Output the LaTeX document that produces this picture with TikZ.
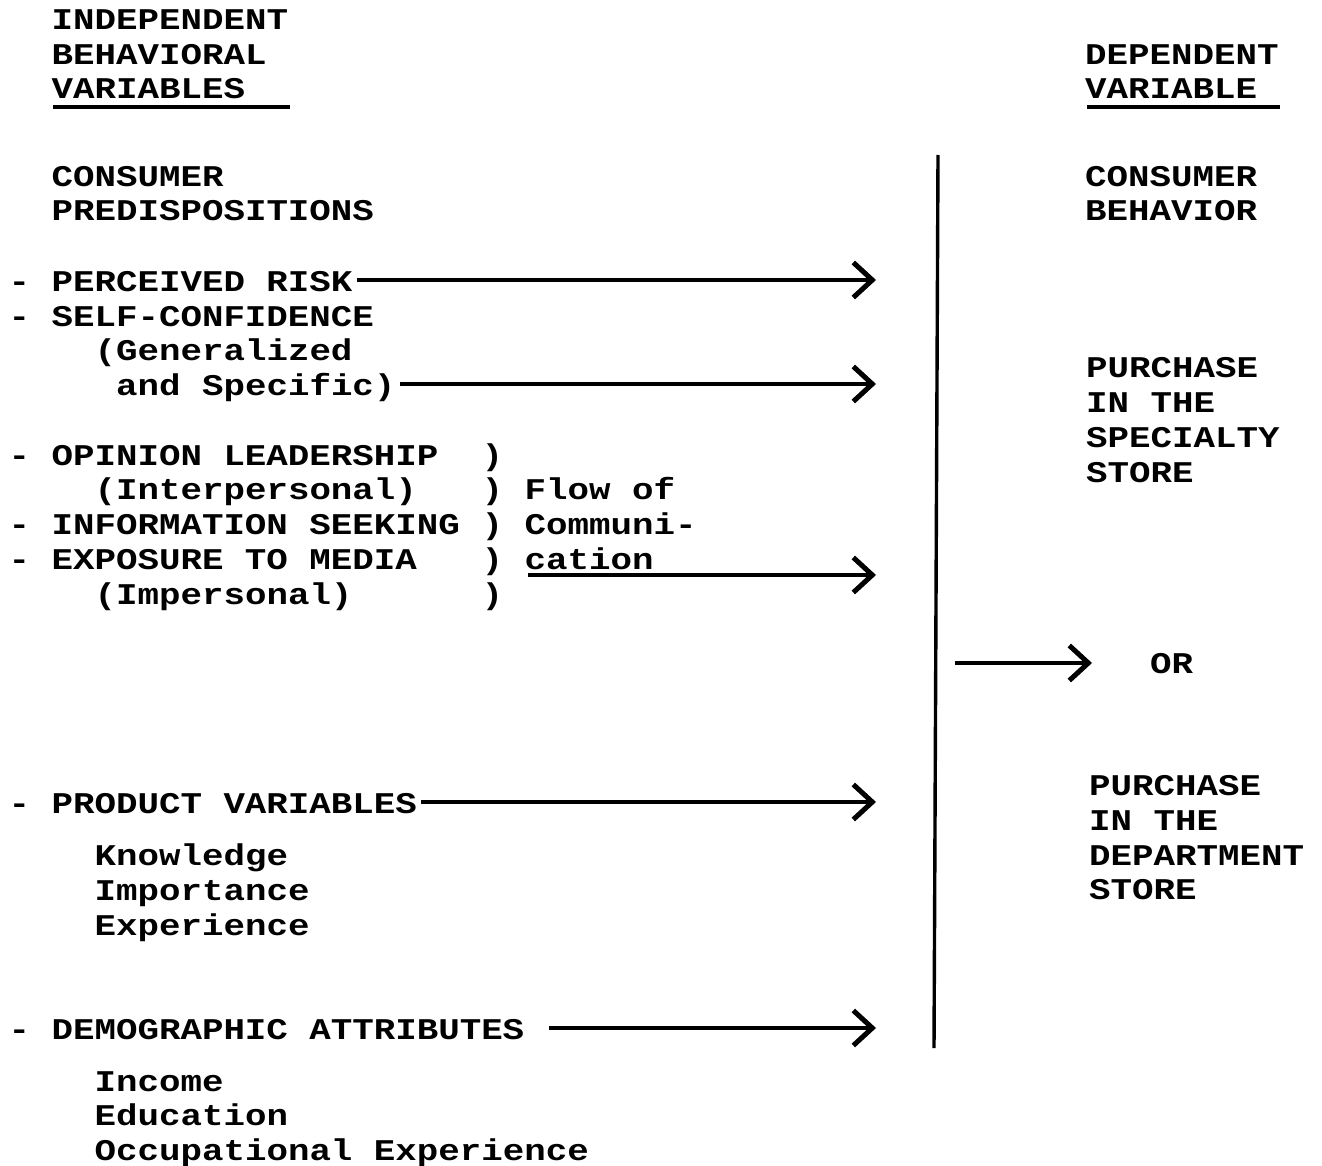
\documentclass[tikz,border=0pt]{standalone}
\usepackage{fontspec}
\setmainfont{Liberation Mono}
\usetikzlibrary{arrows.meta}
\newcommand{\tw}[1]{\scalebox{1}[0.84]{#1}}
\begin{document}
\begin{tikzpicture}[x=1pt,y=-1pt,
  txt/.style={anchor=base west, inner sep=0pt, font=\fontsize{35.8}{40}\selectfont\bfseries, text height=22pt, text depth=0pt},
  arr/.style={line width=3.4pt, -{Straight Barb[length=19pt,width=35pt,line width=5pt]}},
  rule/.style={line width=3.4pt}]
\useasboundingbox[fill=white] (0,0) rectangle (1322,1166);
% headings
\node[txt] (h1) at (51.5,30) {\tw{INDEPENDENT}};
\node[txt] (h2) at (51.5,65) {\tw{BEHAVIORAL}};
\node[txt] (h3) at (51.5,99) {\tw{VARIABLES}};
\node[txt] (d1) at (1085,65) {\tw{DEPENDENT}};
\node[txt] (d2) at (1085,99) {\tw{VARIABLE}};
\coordinate (u1a) at (53,107); \coordinate (u1b) at (290,107);
\coordinate (u2a) at (1087,107); \coordinate (u2b) at (1280,107);
\draw[rule] (u1a) -- (u1b);
\draw[rule] (u2a) -- (u2b);
% section titles
\node[txt] (c1) at (51.5,187) {\tw{CONSUMER}};
\node[txt] (c2) at (51.5,221) {\tw{PREDISPOSITIONS}};
\node[txt] (b1) at (1085,187) {\tw{CONSUMER}};
\node[txt] (b2) at (1085,221) {\tw{BEHAVIOR}};
% predispositions
\node[txt] (risk) at (8.5,291) {\tw{- PERCEIVED RISK}};
\node[txt] (self) at (8.5,326) {\tw{- SELF-CONFIDENCE}};
\node[txt] (gen) at (94.5,360) {\tw{(Generalized}};
\node[txt] (spec) at (116,395) {\tw{and Specific)}};
\node[txt] (opin) at (8.5,465) {\tw{- OPINION LEADERSHIP}};
\node[txt] (inter) at (94.5,499) {\tw{(Interpersonal)}};
\node[txt] (info) at (8.5,534) {\tw{- INFORMATION SEEKING}};
\node[txt] (expo) at (8.5,569) {\tw{- EXPOSURE TO MEDIA}};
\node[txt] (imper) at (94.5,604) {\tw{(Impersonal)}};
\node[txt] (p1) at (481.5,465) {\tw{)}};
\node[txt] (p2) at (481.5,499) {\tw{)}};
\node[txt] (p3) at (481.5,534) {\tw{)}};
\node[txt] (p4) at (481.5,569) {\tw{)}};
\node[txt] (p5) at (481.5,604) {\tw{)}};
\node[txt] (flow1) at (524.5,499) {\tw{Flow of}};
\node[txt] (flow2) at (524.5,534) {\tw{Communi-}};
\node[txt] (flow3) at (524.5,569) {\tw{cation}};
% product and demographic
\node[txt] (prod) at (8.5,813) {\tw{- PRODUCT VARIABLES}};
\node[txt] (know) at (94.5,865) {\tw{Knowledge}};
\node[txt] (imp) at (94.5,900) {\tw{Importance}};
\node[txt] (exp) at (94.5,935) {\tw{Experience}};
\node[txt] (dem) at (8.5,1039) {\tw{- DEMOGRAPHIC ATTRIBUTES}};
\node[txt] (inc) at (94.5,1091) {\tw{Income}};
\node[txt] (edu) at (94.5,1125) {\tw{Education}};
\node[txt] (occ) at (94.5,1160) {\tw{Occupational Experience}};
% dependent outcomes
\node[txt] (s1) at (1086,377) {\tw{PURCHASE}};
\node[txt] (s2) at (1086,412) {\tw{IN THE}};
\node[txt] (s3) at (1086,447) {\tw{SPECIALTY}};
\node[txt] (s4) at (1086,482) {\tw{STORE}};
\node[txt] (or) at (1150,673) {\tw{OR}};
\node[txt] (t1) at (1089,795) {\tw{PURCHASE}};
\node[txt] (t2) at (1089,830) {\tw{IN THE}};
\node[txt] (t3) at (1089,865) {\tw{DEPARTMENT}};
\node[txt] (t4) at (1089,899) {\tw{STORE}};
% vertical divider
\coordinate (vtop) at (938,155);
\coordinate (vbot) at (934,1048);
\draw[rule] (vtop) -- (vbot);
% arrows
\coordinate (tipx) at (876,0);
\draw[arr] ([xshift=4pt]risk.east) -- (risk.east -| tipx);
\draw[arr] ([xshift=4pt]spec.east) -- (spec.east -| tipx);
\coordinate (flowstart) at (528,575);
\draw[arr] (flowstart) -- (flowstart -| tipx);
\draw[arr] ([xshift=4pt]prod.east) -- (prod.east -| tipx);
\draw[arr] ([xshift=24pt]dem.east) -- (dem.east -| tipx);
\coordinate (orstart) at (955,663);
\coordinate (orend) at (1092,663);
\draw[arr] (orstart) -- (orend);
\end{tikzpicture}
\end{document}
